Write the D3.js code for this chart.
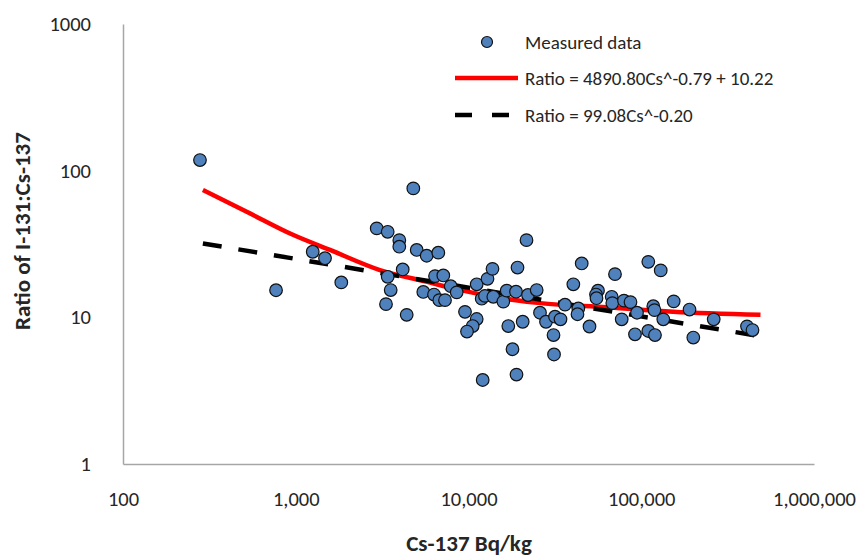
<!DOCTYPE html>
<html>
<head>
<meta charset="utf-8">
<script src="https://cdn.jsdelivr.net/npm/d3@7"></script>
<style>
  body { margin: 0; background: #fff; }
  svg text { font-family: Carlito, "Open Sans", sans-serif; fill: #262626; }
</style>
</head>
<body>
<svg id="chart" width="863" height="557"></svg>
<script>
// measured points: Cs-137 (Bq/kg) and I-131:Cs-137 ratio
var csValues = [279, 769, 1254, 1477, 1835, 2942, 3406, 3976, 3976, 4792,
    5014, 5728, 6687, 4160, 3406, 3545, 3330, 4388, 5474, 6315,
    6400, 7147, 6776, 7311, 7889, 8546, 9544, 11155, 10576, 9802,
    11155, 12882, 13768, 11922, 12458, 13916, 12082, 15906, 16640, 18836,
    16999, 17975, 18960, 19215, 21664, 22103, 24817, 25933, 20591, 28093,
    31680, 34090, 31050, 31260, 36190, 40440, 43210, 42750, 45220, 50170,
    56180, 54710, 55080, 67440, 67980, 70470, 79450, 86650, 77050, 94490,
    91990, 109850, 129620, 117410, 119300, 134160, 109850, 120090, 154100, 190280,
    200180, 262660, 409400, 440550]
var ratioValues = [118.1, 15.3, 28.0, 25.3, 17.3, 40.4, 38.3, 33.6, 30.3, 75.7,
    28.8, 26.3, 27.6, 21.2, 18.9, 15.35, 12.3, 10.4, 14.9, 14.3,
    19.1, 19.3, 13.1, 13.1, 16.3, 14.8, 10.9, 9.74, 8.72, 8.0,
    16.8, 18.3, 21.4, 13.4, 14.0, 13.8, 3.74, 12.8, 15.2, 14.95,
    8.72, 6.06, 4.07, 21.85, 33.6, 14.2, 15.35, 10.75, 9.33, 9.33,
    10.1, 9.69, 7.57, 5.58, 12.2, 16.8, 11.5, 10.5, 23.3, 8.66,
    15.2, 14.3, 13.5, 13.8, 12.5, 19.7, 13.0, 12.7, 9.69, 10.75,
    7.66, 23.9, 20.9, 11.9, 11.2, 9.69, 8.07, 7.57, 12.85, 11.3,
    7.28, 9.69, 8.68, 8.19]

// fitted curves
var fit1Cs = [290, 520, 970, 1580, 3070, 5700, 8900, 14000, 26000, 63000, 153000, 490000]
var fit1Ratio = [73.8, 52.5, 36.4, 28.8, 21.0, 17.5, 15.4, 13.8, 12.5, 11.7, 10.9, 10.4]
var fit2Cs = [290, 500000]
var fit2Ratio = [31.9, 7.4]

var xTicks = [100, 1000, 10000, 100000, 1000000]
var yTicks = [1, 10, 100, 1000]
var legendLabels = ["Measured data", "Ratio = 4890.80Cs^-0.79 + 10.22", "Ratio = 99.08Cs^-0.20"]

var svg = d3.select("#chart")

var x = d3.scaleLog().domain([100, 1000000]).range([123, 814])
var y = d3.scaleLog().domain([1, 1000]).range([464, 24])

var xAxis = d3.axisBottom(x).tickValues(xTicks).tickFormat(d3.format(",")).tickSize(0).tickPadding(27)
var yAxis = d3.axisLeft(y).tickValues(yTicks).tickFormat(d3.format("d")).tickSize(0).tickPadding(32)

var gx = svg.append("g").attr("transform", "translate(0," + 464 + ")").call(xAxis)
var gy = svg.append("g").attr("transform", "translate(123,0)").call(yAxis)

svg.selectAll(".domain").attr("stroke", "#a6a6a6").attr("stroke-width", 1.5)
svg.selectAll(".tick text").attr("font-size", "20.5px").style("font-family", "Carlito, 'Open Sans', sans-serif").attr("fill", "#262626")

// axis titles
svg.append("text")
    .attr("x", 469).attr("y", 551)
    .attr("text-anchor", "middle")
    .attr("font-size", "23px").attr("font-weight", "bold")
    .text("Cs-137 Bq/kg")

svg.append("text")
    .attr("transform", "translate(30,231) rotate(-90)")
    .attr("text-anchor", "middle")
    .attr("font-size", "23px").attr("font-weight", "bold")
    .text("Ratio of I-131:Cs-137")

var line = d3.line().x(d => x(d[0])).y(d => y(d[1])).curve(d3.curveMonotoneX)

svg.append("path")
    .datum(d3.zip(fit1Cs, fit1Ratio))
    .attr("fill", "none")
    .attr("stroke", "#ff0000")
    .attr("stroke-width", 4.5)
    .attr("d", line)

svg.append("path")
    .datum(d3.zip(fit2Cs, fit2Ratio))
    .attr("fill", "none")
    .attr("stroke", "#000")
    .attr("stroke-width", 4.5)
    .attr("stroke-dasharray", "19,17")
    .attr("d", line)

svg.append("g").selectAll("circle")
    .data(d3.zip(csValues, ratioValues))
    .enter().append("circle")
    .attr("cx", d => x(d[0]))
    .attr("cy", d => y(d[1]))
    .attr("r", 6.3)
    .attr("fill", "#4f81bd")
    .attr("stroke", "#111")
    .attr("stroke-width", 1.2)

// legend
var legend = svg.append("g").attr("transform", "translate(455,42)")
legend.append("circle").attr("cx", 32).attr("cy", 0).attr("r", 5.5)
    .attr("fill", "#4f81bd").attr("stroke", "#111").attr("stroke-width", 1.2)
legend.append("line").attr("x1", 0).attr("x2", 63).attr("y1", 36).attr("y2", 36)
    .attr("stroke", "#ff0000").attr("stroke-width", 4.5)
legend.append("line").attr("x1", 0).attr("x2", 63).attr("y1", 73).attr("y2", 73)
    .attr("stroke", "#000").attr("stroke-width", 4.5).attr("stroke-dasharray", "17,20")

legend.selectAll("text.lab")
    .data(legendLabels)
    .enter().append("text")
    .attr("class", "lab")
    .attr("x", 70)
    .attr("y", (d, i) => i * 36.5)
    .attr("dy", "0.35em")
    .attr("font-size", "19px")
    .text(d => d)
</script>
</body>
</html>
